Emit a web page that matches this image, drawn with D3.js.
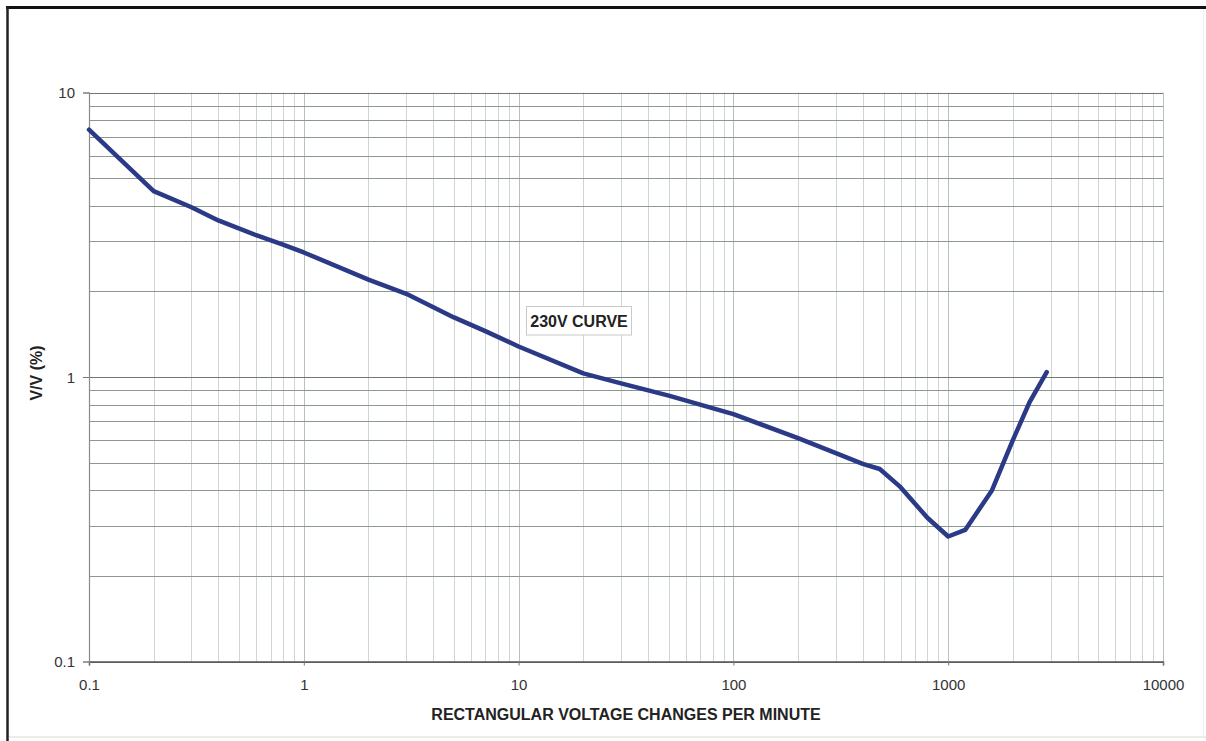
<!DOCTYPE html>
<html>
<head>
<meta charset="utf-8">
<script src="https://cdn.jsdelivr.net/npm/d3@7"></script>
<style>
  html, body { margin: 0; padding: 0; background: #fff; }
  svg { display: block; }
  text { font-family: "Liberation Sans", Arial, sans-serif; }
</style>
</head>
<body>
<svg id="chart" width="1206" height="741"></svg>
<script>
// Rectangular voltage changes per minute vs. relative voltage change (Pst = 1), 230 V lamp
const changesPerMinute = [0.1, 0.2, 0.3, 0.4, 0.6, 0.8, 1, 2, 3, 5, 7, 10, 20, 30, 50, 70, 100, 200, 300, 400, 480, 600, 800, 1000, 1200, 1600, 2000, 2400, 2875];
const deltaVPercent   = [7.4, 4.5, 3.95, 3.55, 3.15, 2.92, 2.74, 2.2, 1.96, 1.62, 1.45, 1.28, 1.03, 0.95, 0.86, 0.80, 0.74, 0.61, 0.54, 0.495, 0.475, 0.41, 0.32, 0.275, 0.29, 0.40, 0.60, 0.82, 1.04];

const xTickLabels = ["0.1", "1", "10", "100", "1000", "10000"];
const yTickLabels = ["0.1", "1", "10"];
const xDomain = [0.1, 10000];
const yDomain = [0.1, 10];
const curveLabel = "230V CURVE";
const xTitle = "RECTANGULAR VOLTAGE CHANGES PER MINUTE";
const yTitle = "V/V (%)";

const svg = d3.select("#chart");
const W = 1206, H = 741;
const plot = { left: 89, right: 1163, top: 92.5, bottom: 661.5 };

const x = d3.scaleLog().domain(xDomain).range([plot.left, plot.right]);
const y = d3.scaleLog().domain(yDomain).range([plot.bottom, plot.top]);

// page frame
svg.append("rect").attr("x", 0).attr("y", 0).attr("width", W).attr("height", H).attr("fill", "#fff");
svg.append("line").attr("x1", 6).attr("x2", W).attr("y1", 7.5).attr("y2", 7.5)
  .attr("stroke", "#111").attr("stroke-width", 3);
svg.append("line").attr("x1", 7.5).attr("x2", 7.5).attr("y1", 6).attr("y2", H)
  .attr("stroke", "#222").attr("stroke-width", 2.5);
svg.append("line").attr("x1", 9).attr("x2", W).attr("y1", 737).attr("y2", 737)
  .attr("stroke", "#e6e6e2").attr("stroke-width", 1.5);
svg.append("line").attr("x1", 1203.5).attr("x2", 1203.5).attr("y1", 9).attr("y2", 737)
  .attr("stroke", "#eeeeea").attr("stroke-width", 1);

// log grid values: 1..9 × each decade
function logGrid(domain) {
  const vals = [];
  const lo = Math.round(Math.log10(domain[0])), hi = Math.round(Math.log10(domain[1]));
  for (let e = lo; e < hi; e++) {
    for (let k = 1; k <= 9; k++) vals.push(k * Math.pow(10, e));
  }
  vals.push(domain[1]);
  return vals;
}

const grid = svg.append("g");
// vertical grid
grid.selectAll("line.vx").data(logGrid(xDomain)).join("line")
  .attr("x1", d => Math.round(x(d)) + 0.5).attr("x2", d => Math.round(x(d)) + 0.5)
  .attr("y1", plot.top).attr("y2", plot.bottom)
  .attr("stroke", d => Math.abs(Math.log10(d) - Math.round(Math.log10(d))) < 1e-9 ? "#b9c0bc" : "#cfd5d2")
  .attr("stroke-width", 1);
// horizontal grid
grid.selectAll("line.hy").data(logGrid(yDomain)).join("line")
  .attr("x1", plot.left).attr("x2", plot.right)
  .attr("y1", d => Math.round(y(d)) + 0.5).attr("y2", d => Math.round(y(d)) + 0.5)
  .attr("stroke", d => Math.abs(Math.log10(d) - Math.round(Math.log10(d))) < 1e-9 ? "#6f7773" : "#8d9792")
  .attr("stroke-width", 1);

// axes
const xAxis = d3.axisBottom(x)
  .tickValues(xTickLabels.map(Number))
  .tickFormat((d, i) => xTickLabels[i])
  .tickSize(4).tickPadding(14);
const yAxis = d3.axisLeft(y)
  .tickValues(yTickLabels.map(Number))
  .tickFormat((d, i) => yTickLabels[i])
  .tickSize(6).tickPadding(8);

const gx = svg.append("g").attr("transform", `translate(0,${plot.bottom})`).call(xAxis);
gx.select(".domain").attr("stroke", "#555").attr("stroke-width", 1.5);
gx.selectAll(".tick line").attr("stroke", "#777");
gx.selectAll(".tick text").attr("font-size", 15).attr("fill", "#333");

const gy = svg.append("g").attr("transform", `translate(${plot.left},0)`).call(yAxis);
gy.select(".domain").attr("stroke", "#8a8a8a").attr("stroke-width", 1.2);
gy.selectAll(".tick line").attr("stroke", "#777");
gy.selectAll(".tick text").attr("font-size", 15).attr("fill", "#333").attr("dy", "0.35em");

// axis titles
svg.append("text").attr("x", (plot.left + plot.right) / 2 + 0).attr("y", 720)
  .attr("text-anchor", "middle").attr("font-size", 16).attr("font-weight", "bold").attr("fill", "#222")
  .text(xTitle);
svg.append("text").attr("transform", `translate(42,${373}) rotate(-90)`)
  .attr("text-anchor", "middle").attr("font-size", 16).attr("font-weight", "bold").attr("fill", "#222")
  .text(yTitle);

// curve
const line = d3.line().x((d, i) => x(changesPerMinute[i])).y(d => y(d));
svg.append("path").datum(deltaVPercent)
  .attr("d", line)
  .attr("fill", "none").attr("stroke", "#2b3a86").attr("stroke-width", 4.5)
  .attr("stroke-linejoin", "round").attr("stroke-linecap", "round");

// curve label box
const lbl = svg.append("g");
lbl.append("rect").attr("x", 526.5).attr("y", 306.5).attr("width", 105).attr("height", 28.5)
  .attr("fill", "#fff").attr("stroke", "#c9c9c9").attr("stroke-width", 1);
lbl.append("text").attr("x", 579).attr("y", 321).attr("dy", "0.35em")
  .attr("text-anchor", "middle").attr("font-size", 16).attr("font-weight", "bold").attr("fill", "#222")
  .text(curveLabel);
</script>
</body>
</html>
